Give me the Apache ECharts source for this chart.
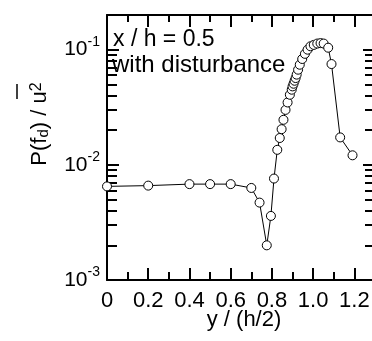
<!DOCTYPE html>
<html><head><meta charset="utf-8">
<script src="https://cdn.jsdelivr.net/npm/echarts@6/dist/echarts.min.js"></script>
<style>html,body{margin:0;padding:0;background:#fff}#c{width:372px;height:341px}</style>
</head><body><div id="c"></div>
<script>
const positions = [0, 0.2, 0.4, 0.5, 0.6, 0.7, 0.74, 0.775, 0.795, 0.81, 0.826, 0.838, 0.847, 0.856, 0.866, 0.876, 0.887, 0.896, 0.900, 0.905, 0.910, 0.915, 0.920, 0.927, 0.935, 0.947, 0.960, 0.973, 0.987, 1.003, 1.020, 1.036, 1.051, 1.073, 1.089, 1.131, 1.191];
const spectrum = [0.0065, 0.0066, 0.0068, 0.0068, 0.0068, 0.0063, 0.0047, 0.0020, 0.0036, 0.0076, 0.0135, 0.0171, 0.0204, 0.0246, 0.030, 0.0348, 0.0406, 0.0449, 0.048, 0.0506, 0.0537, 0.0567, 0.0607, 0.067, 0.074, 0.083, 0.092, 0.100, 0.107, 0.110, 0.113, 0.114, 0.113, 0.104, 0.075, 0.0173, 0.0121];
const xMajorTicks = [0, 0.2, 0.4, 0.6, 0.8, 1.0, 1.2];
const xMinorTicks = [0.1, 0.3, 0.5, 0.7, 0.9, 1.1];
const yMajorTicks = [0.001, 0.01, 0.1];
const yMinorTicks = [0.002, 0.003, 0.004, 0.005, 0.006, 0.007, 0.008, 0.009, 0.02, 0.03, 0.04, 0.05, 0.06, 0.07, 0.08, 0.09];
const xMin = 0, xMax = 1.3, yMin = 0.001, yMax = 0.2;

const FONT = '"Liberation Sans", Arial, sans-serif';
const chart = echarts.init(document.getElementById('c'), null, {renderer: 'canvas'});

function xAx(pos, ticks, len, labels, line) {
  return {
    type: 'value', position: pos, min: xMin, max: xMax,
    axisLine: {show: line, onZero: false, lineStyle: {color: '#000', width: 2}},
    axisTick: {show: true, inside: true, length: len, customValues: ticks, lineStyle: {color: '#000', width: 2}},
    axisLabel: labels ? {show: true, customValues: xMajorTicks, margin: 10, color: '#000', fontSize: 22, fontFamily: FONT,
      formatter: v => v === 0 ? '0' : v.toFixed(1)} : {show: false},
    splitLine: {show: false}
  };
}
function yAx(pos, ticks, len, labels, line) {
  return {
    type: 'log', logBase: 10, position: pos, min: yMin, max: yMax,
    axisLine: {show: line, onZero: false, lineStyle: {color: '#000', width: 2}},
    axisTick: {show: true, inside: true, length: len, customValues: ticks, lineStyle: {color: '#000', width: 2}},
    axisLabel: labels ? {show: true, customValues: yMajorTicks, margin: 7, color: '#000', fontFamily: FONT,
      formatter: v => '{b|10}{s|' + Math.round(Math.log10(v)) + '}',
      rich: {
        b: {fontSize: 21, lineHeight: 30, fontFamily: FONT, color: '#000'},
        s: {fontSize: 14, lineHeight: 16, verticalAlign: 'top', fontFamily: FONT, color: '#000'}
      }} : {show: false},
    splitLine: {show: false}
  };
}

chart.setOption({
  animation: false,
  backgroundColor: '#fff',
  grid: {left: 107, top: 15, width: 268, height: 265, containLabel: false, outerBoundsMode: 'none'},
  xAxis: [
    xAx('bottom', xMajorTicks, 12, true, true),
    xAx('bottom', xMinorTicks, 8, false, false),
    xAx('top', xMajorTicks, 12, false, true),
    xAx('top', xMinorTicks, 7, false, false)
  ],
  yAxis: [
    yAx('left', yMajorTicks, 12, true, true),
    yAx('left', yMinorTicks, 10, false, false),
    yAx('right', yMajorTicks, 12, false, true),
    yAx('right', yMinorTicks, 10, false, false)
  ],
  graphic: [
    {type: 'text', left: 113, top: 28, style: {text: 'x / h = 0.5', fontSize: 23, fontFamily: FONT, fill: '#000'}},
    {type: 'text', left: 112, top: 53, style: {text: 'with disturbance', fontSize: 24, fontFamily: FONT, fill: '#000'}},
    {type: 'text', x: 244, y: 320, style: {text: 'y / (h/2)', align: 'center', verticalAlign: 'middle', fontSize: 22, fontFamily: FONT, fill: '#000'}},
    {type: 'text', x: 40, y: 124, rotation: Math.PI / 2,
      style: {text: 'P(f{sub|d}) / u{sup|2}', align: 'center', verticalAlign: 'middle', fill: '#000', fontFamily: FONT, fontSize: 22,
        rich: {
          sub: {fontSize: 15, lineHeight: 14, verticalAlign: 'bottom', fontFamily: FONT, fill: '#000'},
          sup: {fontSize: 16, lineHeight: 16, verticalAlign: 'top', fontFamily: FONT, fill: '#000'}
        }}},
    {type: 'line', shape: {x1: 17, y1: 84, x2: 17, y2: 99}, style: {stroke: '#000', lineWidth: 1.5}}
  ],
  series: [{
    type: 'line', xAxisIndex: 0, yAxisIndex: 0, clip: false,
    data: positions.map((p, i) => [p, spectrum[i]]),
    symbol: 'circle', symbolSize: 9,
    itemStyle: {color: '#fff', borderColor: '#000', borderWidth: 1},
    lineStyle: {color: '#000', width: 1},
    z: 5
  }]
});
</script>
</body></html>
